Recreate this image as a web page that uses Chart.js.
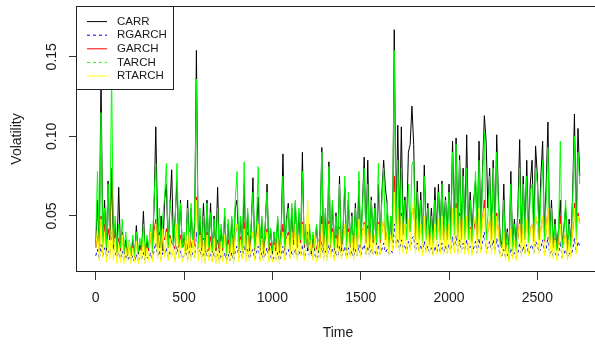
<!DOCTYPE html>
<html><head><meta charset="utf-8">
<script src="https://cdn.jsdelivr.net/npm/chart.js@4"></script>
<style>
html,body{margin:0;padding:0;background:#fff;overflow:hidden;width:595px;height:345px}
#wrap{position:relative;width:610px;height:345px}
</style>
</head><body><div id="wrap"><canvas id="c" width="610" height="345"></canvas></div>
<script>
// ---- data ----
const seriesNames = ["CARR", "RGARCH", "GARCH", "TARCH", "RTARCH"];
const STEP = 10;   // time units between consecutive values

const CARR = [
.030,.060,.028,.140,.030,.060,.028,.072,.035,.078,
.030,.045,.027,.068,.028,.040,.026,.035,.025,.032,
.025,.035,.024,.044,.026,.032,.028,.053,.025,.035,
.028,.040,.027,.055,.106,.045,.030,.050,.028,.060,
.070,.030,.055,.079,.032,.050,.072,.030,.060,.030,
.038,.028,.060,.030,.055,.030,.045,.154,.030,.050,
.028,.058,.027,.060,.028,.058,.027,.050,.028,.068,
.027,.042,.028,.050,.025,.045,.026,.048,.026,.055,
.060,.028,.048,.027,.070,.028,.052,.028,.042,.074,
.028,.042,.062,.028,.048,.026,.045,.070,.028,.042,
.026,.040,.028,.048,.027,.042,.089,.028,.048,.058,
.028,.055,.032,.058,.030,.052,.033,.090,.030,.042,
.028,.042,.026,.038,.028,.044,.027,.042,.093,.028,
.052,.028,.084,.030,.058,.028,.052,.030,.075,.028,
.042,.068,.028,.060,.030,.052,.028,.058,.030,.072,
.030,.058,.087,.033,.085,.030,.062,.033,.058,.032,
.070,.033,.065,.085,.067,.058,.030,.050,.033,.167,
.045,.107,.040,.106,.045,.062,.045,.090,.095,.119,
.095,.035,.072,.040,.065,.035,.082,.040,.058,.035,
.055,.035,.068,.040,.070,.040,.072,.040,.062,.038,
.070,.040,.097,.045,.099,.040,.088,.040,.080,.040,
.101,.040,.065,.038,.060,.072,.040,.097,.040,.080,
.113,.097,.055,.080,.040,.085,.040,.101,.060,.035,
.032,.070,.030,.042,.028,.078,.030,.048,.030,.055,
.098,.035,.075,.040,.085,.038,.070,.085,.040,.094,
.075,.040,.075,.097,.038,.070,.109,.035,.060,.032,
.048,.030,.042,.060,.032,.042,.055,.030,.048,.032,
.065,.114,.040,.105,.075
];

const TARCH = [
.035,.078,.030,.115,.032,.055,.030,.070,.038,.140,
.032,.050,.028,.045,.030,.048,.027,.040,.026,.035,
.026,.038,.025,.040,.027,.036,.028,.045,.026,.038,
.030,.045,.028,.060,.083,.030,.055,.030,.050,.062,
.083,.030,.060,.050,.030,.048,.083,.032,.058,.030,
.040,.028,.055,.030,.058,.030,.048,.136,.030,.055,
.030,.050,.028,.058,.030,.052,.028,.048,.030,.055,
.028,.045,.030,.055,.026,.048,.028,.050,.027,.060,
.078,.030,.050,.028,.084,.030,.055,.030,.045,.065,
.030,.045,.081,.030,.050,.028,.045,.065,.030,.042,
.028,.040,.030,.050,.028,.040,.075,.030,.045,.055,
.030,.058,.035,.060,.032,.055,.035,.078,.032,.045,
.030,.045,.028,.040,.030,.045,.028,.040,.090,.030,
.055,.030,.081,.032,.060,.030,.050,.032,.070,.030,
.040,.075,.030,.065,.032,.050,.030,.055,.032,.078,
.032,.055,.080,.035,.070,.032,.060,.035,.055,.033,
.083,.035,.060,.080,.035,.058,.032,.050,.035,.154,
.040,.085,.035,.080,.038,.060,.035,.070,.040,.082,
.085,.035,.065,.035,.060,.033,.075,.035,.055,.032,
.050,.032,.060,.035,.065,.035,.070,.035,.060,.035,
.065,.035,.090,.038,.095,.035,.085,.035,.075,.035,
.080,.035,.060,.033,.055,.078,.035,.085,.035,.075,
.103,.035,.050,.075,.035,.080,.035,.090,.055,.032,
.030,.060,.028,.040,.026,.070,.028,.045,.028,.050,
.080,.033,.070,.035,.075,.033,.065,.070,.035,.080,
.070,.035,.065,.085,.035,.060,.093,.033,.055,.030,
.045,.028,.040,.097,.030,.040,.060,.028,.045,.030,
.060,.100,.035,.090,.070
];

const RGARCH = [
.025,.029,.023,.032,.025,.030,.024,.028,.026,.040,
.030,.027,.024,.027,.023,.028,.022,.026,.022,.025,
.022,.025,.021,.026,.022,.024,.023,.027,.022,.024,
.023,.027,.022,.028,.033,.025,.028,.023,.027,.026,
.030,.024,.028,.025,.025,.023,.031,.024,.028,.023,
.025,.027,.023,.028,.024,.027,.024,.040,.027,.029,
.024,.027,.022,.029,.023,.027,.022,.027,.023,.026,
.022,.026,.023,.027,.022,.026,.022,.027,.022,.028,
.031,.024,.028,.024,.032,.024,.029,.023,.027,.029,
.023,.027,.031,.023,.027,.023,.026,.030,.023,.025,
.022,.025,.023,.027,.022,.025,.031,.023,.027,.029,
.024,.028,.025,.029,.024,.028,.025,.032,.024,.027,
.029,.025,.026,.024,.026,.023,.025,.024,.034,.024,
.028,.024,.032,.025,.030,.024,.028,.024,.031,.025,
.026,.031,.024,.030,.025,.028,.024,.029,.025,.032,
.025,.029,.032,.026,.031,.025,.029,.026,.028,.025,
.032,.026,.029,.033,.027,.029,.026,.028,.027,.045,
.032,.036,.029,.035,.029,.032,.028,.034,.030,.036,
.037,.028,.033,.028,.032,.027,.034,.028,.031,.027,
.030,.026,.031,.027,.032,.027,.033,.027,.031,.027,
.032,.028,.037,.029,.038,.028,.035,.028,.033,.028,
.035,.028,.031,.027,.030,.034,.027,.036,.028,.034,
.040,.029,.030,.034,.028,.035,.028,.036,.030,.026,
.025,.029,.024,.026,.023,.030,.024,.027,.024,.027,
.033,.026,.031,.027,.032,.026,.030,.032,.027,.034,
.032,.027,.030,.035,.027,.029,.037,.026,.028,.025,
.027,.024,.026,.034,.024,.026,.029,.024,.027,.025,
.029,.036,.027,.034,.031
];

const GARCH = [
.030,.038,.028,.050,.032,.045,.030,.042,.035,.080,
.045,.034,.030,.036,.029,.038,.028,.033,.027,.031,
.027,.031,.026,.033,.027,.030,.028,.034,.027,.031,
.028,.036,.029,.040,.048,.032,.040,.030,.038,.035,
.042,.030,.038,.033,.032,.029,.045,.031,.038,.030,
.032,.036,.029,.038,.030,.036,.031,.062,.035,.040,
.030,.036,.028,.040,.029,.037,.028,.036,.029,.035,
.028,.034,.029,.037,.027,.035,.028,.036,.027,.038,
.045,.030,.037,.030,.046,.030,.040,.029,.035,.040,
.030,.036,.045,.030,.037,.029,.035,.042,.029,.033,
.028,.033,.029,.036,.028,.033,.045,.030,.036,.040,
.032,.040,.033,.042,.031,.038,.033,.046,.031,.036,
.040,.032,.034,.030,.035,.029,.033,.030,.050,.031,
.038,.030,.047,.032,.042,.030,.038,.031,.043,.031,
.034,.044,.030,.042,.031,.037,.030,.040,.031,.045,
.033,.040,.046,.034,.044,.032,.040,.034,.038,.033,
.046,.034,.040,.048,.035,.040,.033,.038,.035,.075,
.045,.055,.038,.052,.038,.045,.036,.048,.040,.052,
.055,.036,.046,.036,.044,.034,.048,.036,.042,.034,
.040,.033,.043,.035,.045,.035,.046,.035,.043,.035,
.045,.036,.055,.038,.058,.036,.052,.036,.048,.036,
.050,.036,.043,.034,.041,.048,.035,.052,.036,.048,
.060,.038,.040,.048,.035,.050,.035,.052,.040,.032,
.030,.040,.029,.033,.028,.042,.029,.035,.029,.036,
.048,.033,.044,.035,.046,.033,.042,.045,.034,.050,
.045,.035,.042,.050,.034,.040,.055,.033,.038,.031,
.036,.029,.033,.050,.030,.033,.040,.029,.035,.031,
.040,.058,.035,.052,.045
];

const RTARCH = [
.030,.042,.022,.048,.024,.040,.021,.035,.023,.045,
.022,.036,.020,.032,.021,.038,.020,.030,.022,.034,
.020,.030,.021,.034,.020,.028,.022,.036,.020,.030,
.022,.040,.021,.035,.045,.023,.038,.021,.042,.024,
.040,.022,.036,.024,.030,.021,.045,.023,.035,.021,
.025,.038,.021,.040,.022,.035,.024,.060,.022,.038,
.021,.035,.020,.038,.022,.032,.021,.036,.020,.030,
.020,.034,.021,.038,.020,.032,.022,.036,.020,.040,
.045,.021,.035,.023,.042,.021,.038,.022,.033,.040,
.022,.035,.045,.021,.036,.022,.032,.040,.021,.030,
.021,.032,.022,.036,.020,.034,.040,.022,.035,.038,
.023,.040,.024,.045,.022,.038,.025,.045,.022,.035,
.060,.024,.035,.022,.038,.021,.034,.023,.045,.022,
.038,.022,.045,.024,.040,.022,.036,.024,.042,.023,
.030,.045,.023,.040,.024,.038,.022,.040,.025,.048,
.024,.040,.045,.026,.042,.024,.040,.026,.038,.025,
.045,.026,.040,.048,.028,.040,.026,.038,.028,.065,
.030,.055,.026,.050,.027,.045,.026,.048,.028,.050,
.060,.026,.048,.027,.045,.025,.050,.027,.042,.026,
.040,.025,.045,.026,.048,.026,.050,.026,.045,.026,
.045,.026,.055,.027,.055,.026,.050,.027,.048,.026,
.050,.026,.042,.025,.045,.050,.026,.055,.027,.048,
.055,.026,.040,.050,.026,.052,.026,.050,.040,.024,
.025,.040,.022,.032,.021,.042,.023,.035,.022,.038,
.045,.024,.045,.026,.048,.025,.042,.045,.026,.050,
.045,.026,.042,.050,.025,.040,.055,.024,.040,.023,
.035,.022,.030,.045,.023,.032,.040,.022,.035,.024,
.042,.055,.026,.050,.045
];

const xTicks = [0, 500, 1000, 1500, 2000, 2500];
const yTicks = [0.05, 0.10, 0.15];
const yTickLabels = ["0.05", "0.10", "0.15"];
const xTitle = "Time";
const yTitle = "Volatility";

// ---- styles ----
const FONT = '"Liberation Sans", Arial, Helvetica, sans-serif';
const TEXT = '#1a1a1a';
const styles = {
  CARR:   { color: '#000000', dash: [],    plotDash: [],    order: 5 },
  RGARCH: { color: '#0000FF', dash: [3,3], plotDash: [3,3], order: 4 },
  GARCH:  { color: '#FF0000', dash: [],    plotDash: [],    order: 3 },
  TARCH:  { color: '#00FF00', dash: [3,3], plotDash: [],    order: 2 },
  RTARCH: { color: '#FFFF00', dash: [],    plotDash: [],    order: 1 }
};
const seriesData = { CARR, RGARCH, GARCH, TARCH, RTARCH };
const toPoints = arr => arr.map((y, i) => ({ x: i * STEP, y }));

const datasets = seriesNames.map(name => ({
  label: name,
  data: toPoints(seriesData[name]),
  borderColor: styles[name].color,
  borderDash: styles[name].plotDash,
  borderWidth: 1,
  pointRadius: 0,
  tension: 0,
  fill: false,
  order: styles[name].order
}));

const overlay = {
  id: 'overlay',
  afterDraw(chart) {
    const { ctx, chartArea: a, scales } = chart;
    ctx.save();
    ctx.strokeStyle = '#222';
    ctx.lineWidth = 1;
    ctx.setLineDash([]);
    ctx.strokeRect(a.left - 0.5, a.top + 0.5, a.right - a.left + 1, a.bottom - a.top - 1);
    ctx.fillStyle = TEXT;
    ctx.font = '14px ' + FONT;
    ctx.textAlign = 'center';
    ctx.textBaseline = 'middle';
    yTicks.forEach((v, i) => {
      const y = scales.y.getPixelForValue(v);
      ctx.save();
      ctx.translate(a.left - 25.3, y);
      ctx.rotate(-Math.PI / 2);
      ctx.fillText(yTickLabels[i], 0, 0);
      ctx.restore();
    });
    const lx = a.left - 0.5, ly = a.top + 0.5, lw = 97, lh = 83;
    ctx.fillStyle = '#ffffff';
    ctx.fillRect(lx, ly, lw, lh);
    ctx.strokeStyle = '#222';
    ctx.strokeRect(lx, ly, lw, lh);
    ctx.font = '11.5px ' + FONT;
    ctx.textAlign = 'left';
    ctx.textBaseline = 'middle';
    seriesNames.forEach((name, k) => {
      const y = a.top + 15.6 + k * 13.6;
      ctx.strokeStyle = styles[name].color;
      ctx.setLineDash(styles[name].dash);
      ctx.beginPath();
      ctx.moveTo(a.left + 10, y);
      ctx.lineTo(a.left + 30, y);
      ctx.stroke();
      ctx.setLineDash([]);
      ctx.fillStyle = TEXT;
      ctx.fillText(name, a.left + 40, y);
    });
    ctx.restore();
  }
};

new Chart(document.getElementById('c'), {
  type: 'line',
  data: { datasets },
  options: {
    responsive: false,
    animation: false,
    layout: { padding: { top: 6, right: 11, left: 0, bottom: 0 } },
    plugins: { legend: { display: false }, tooltip: { enabled: false } },
    scales: {
      x: {
        type: 'linear', min: -106, max: 2849,
        afterBuildTicks: s => { s.ticks = xTicks.map(v => ({ value: v })); },
        afterFit: s => { s.height = 73; },
        grid: { drawOnChartArea: false, drawTicks: true, tickLength: 8, color: '#333' },
        border: { display: false },
        ticks: { color: TEXT, font: { family: FONT, size: 14 }, padding: 10, maxRotation: 0, autoSkip: false, callback: v => String(v) },
        title: { display: true, text: xTitle, color: TEXT, font: { family: FONT, size: 14 }, padding: { top: 0, bottom: 3 } }
      },
      y: {
        type: 'linear', min: 0.0148, max: 0.1819,
        afterBuildTicks: s => { s.ticks = yTicks.map(v => ({ value: v })); },
        afterFit: s => { s.width = 77; },
        grid: { drawOnChartArea: false, drawTicks: true, tickLength: 8, color: '#333' },
        border: { display: false },
        ticks: { display: false },
        title: { display: true, text: yTitle, color: TEXT, font: { family: FONT, size: 14 }, padding: { top: 9, bottom: 0 } }
      }
    }
  },
  plugins: [overlay]
});
</script>
</body></html>
